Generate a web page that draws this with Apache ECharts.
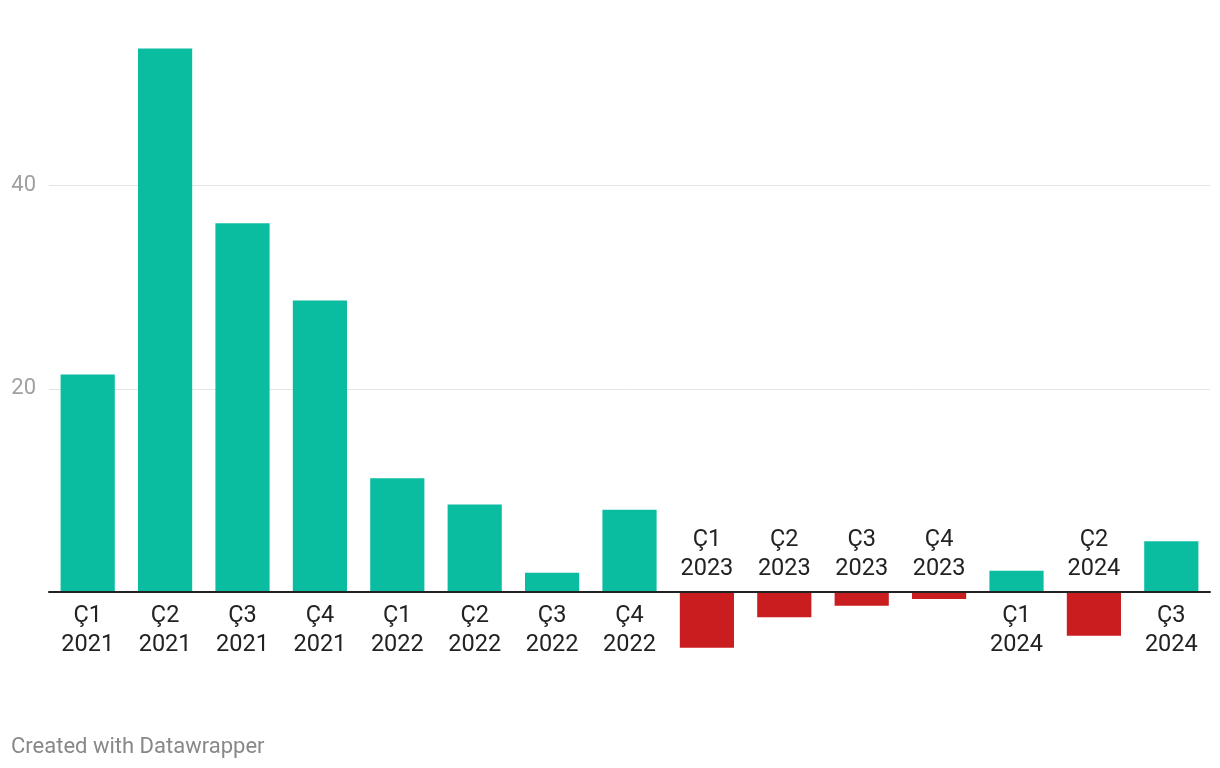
<!DOCTYPE html>
<html>
<head>
<meta charset="utf-8">
<script src="https://cdn.jsdelivr.net/npm/echarts@6/dist/echarts.min.js"></script>
<style>
html,body{margin:0;padding:0;background:#fff;}
#chart{width:1220px;height:768px;}
</style>
</head>
<body>
<div id="chart"></div>
<script>
const quarters = ['Ç1','Ç2','Ç3','Ç4','Ç1','Ç2','Ç3','Ç4','Ç1','Ç2','Ç3','Ç4','Ç1','Ç2','Ç3'];
const years = ['2021','2021','2021','2021','2022','2022','2022','2022','2023','2023','2023','2023','2024','2024','2024'];
const values = [21.4, 53.5, 36.3, 28.7, 11.2, 8.6, 1.9, 8.1, -5.5, -2.5, -1.35, -0.7, 2.1, -4.3, 5.0];
const yTicks = [20, 40];

const categories = quarters.map((q, i) => q + '\n' + years[i]);
const GREEN = '#0abda0', RED = '#c91d1f';

const chart = echarts.init(document.getElementById('chart'));
chart.setOption({
  animation: false,
  backgroundColor: '#fff',
  grid: { left: 49, right: 10, top: 0, bottom: 0, containLabel: false },
  xAxis: {
    type: 'category',
    data: categories,
    axisLine: { onZero: true, lineStyle: { color: '#222', width: 2 } },
    axisTick: { show: false },
    axisLabel: { show: false },
    z: 10
  },
  yAxis: {
    type: 'value',
    min: -17.33, max: 58.28,
    axisLine: { show: false },
    axisTick: { show: false, customValues: yTicks },
    axisLabel: {
      customValues: yTicks,
      color: '#a0a0a0', fontSize: 22, fontFamily: 'Roboto', margin: 13
    },
    splitLine: { show: true, lineStyle: { color: '#e4e4e4', width: 1 } }
  },
  series: [{
    type: 'bar',
    barCategoryGap: '30%',
    data: values.map(v => ({
      value: v,
      itemStyle: { color: v >= 0 ? GREEN : RED },
      label: { position: v >= 0 ? 'bottom' : 'top', distance: v >= 0 ? 9 : 8 }
    })),
    label: {
      show: true,
      formatter: p => categories[p.dataIndex],
      color: '#222', fontSize: 23.5, lineHeight: 29.5, fontFamily: 'Roboto', align: 'center'
    }
  }],
  graphic: [{
    type: 'text', left: 11, top: 736,
    style: { text: 'Created with Datawrapper', fill: '#888', fontSize: 22, fontFamily: 'Roboto' }
  }]
});
</script>
</body>
</html>
